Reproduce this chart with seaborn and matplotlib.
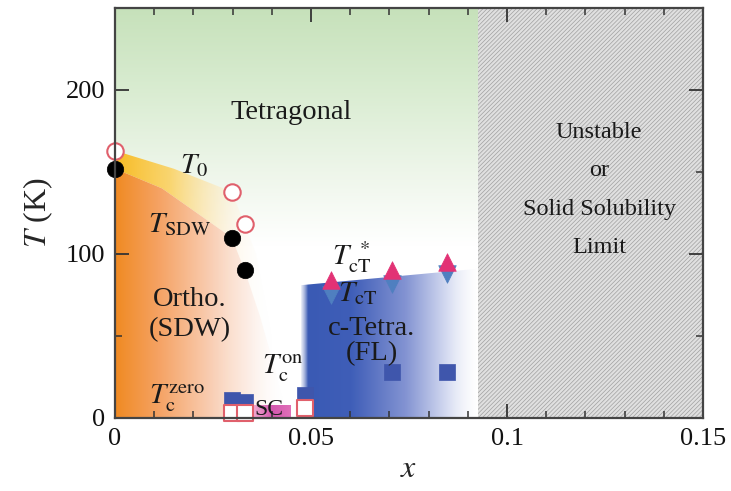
import numpy as np
import pandas as pd
import matplotlib
matplotlib.use("Agg")
import matplotlib.pyplot as plt
from matplotlib.patches import Polygon, Rectangle
from matplotlib.colors import to_rgba
import seaborn as sns

# ---------------- data ----------------
t0_x = [0.0, 0.0298, 0.0331]
t0_y = [163, 138, 118]
tsdw_x = [0.0, 0.0298, 0.0331]
tsdw_y = [152, 110, 90]
tct_star_x = [0.0552, 0.0707, 0.0847]
tct_star_y = [84, 90, 95]
tct_x = [0.0552, 0.0707, 0.0847]
tct_y = [75, 82, 88]
tc_on_x = [0.0298, 0.0331, 0.0484, 0.0707, 0.0847]
tc_on_y = [11, 10, 14, 28, 28]
tc_zero_x = [0.0298, 0.0331, 0.0484]
tc_zero_y = [3, 3, 6]

# phase boundaries (background regions)
sdw_bx = [0.0, 0.012, 0.0298, 0.0331, 0.037, 0.041, 0.044]
sdw_by = [152, 140, 110, 90, 62, 28, 0]
t0_bx = [0.0, 0.015, 0.0298, 0.0331, 0.036]
t0_by = [163, 152, 138, 118, 100]
fl_bx = [0.0475, 0.0925]
fl_by = [81, 91]
limit_x = 0.0925
sc_box = (0.0355, 0.0448, 0, 8)

x_ticks = [0, 0.05, 0.1, 0.15]
x_ticklabels = ["0", "0.05", "0.1", "0.15"]
y_ticks = [0, 100, 200]
y_ticklabels = ["0", "100", "200"]

# ---------------- style ----------------
sns.set_style("ticks")
plt.rcParams["font.family"] = ["Liberation Serif", "DejaVu Serif"]
plt.rcParams["mathtext.fontset"] = "stix"
plt.rcParams["hatch.linewidth"] = 0.5

fig = plt.figure(figsize=(7.31, 4.91), dpi=100)
ax = fig.add_axes([115 / 731, 1 - 418 / 491, 588 / 731, 410 / 491])
XMIN, XMAX, YMIN, YMAX = 0.0, 0.15, 0.0, 250.0
ax.set_xlim(XMIN, XMAX)
ax.set_ylim(YMIN, YMAX)


def grad_image(stops, n=400, horizontal=True):
    pos = np.linspace(0, 1, n)
    cols = np.array([to_rgba(c, a) for _, c, a in stops])
    p = np.array([s[0] for s in stops])
    arr = np.stack([np.interp(pos, p, cols[:, k]) for k in range(4)], axis=-1)
    if horizontal:
        return arr[np.newaxis, :, :]
    return arr[::-1, np.newaxis, :]  # top row = pos 1


def draw_grad(extent, stops, clip=None, horizontal=True, z=0.5):
    img = grad_image(stops, horizontal=horizontal)
    im = ax.imshow(img, extent=extent, aspect="auto", origin="upper",
                   interpolation="bilinear", zorder=z)
    if clip is not None:
        ax.add_patch(clip)
        clip.set_visible(False)
        im.set_clip_path(clip)
    return im


# green tetragonal region (vertical gradient)
green_clip = Rectangle((0, 0), limit_x, 250, transform=ax.transData)
draw_grad([0, limit_x, 0, 250],
          [(0.0, "#ffffff", 1), (0.42, "#ffffff", 1), (0.6, "#eef6ea", 1),
           (0.8, "#d9ecd1", 1), (1.0, "#c6e1ba", 1)],
          clip=green_clip, horizontal=False, z=0.2)

# yellow T0 band
band = list(zip(t0_bx, t0_by)) + list(zip(sdw_bx[::-1], sdw_by[::-1]))
band_poly = Polygon(band, closed=True, transform=ax.transData)
draw_grad([0, 0.04, 0, 250],
          [(0.0, "#f8bb22", 1), (0.35, "#fbd262", 0.9), (0.75, "#fdf0d8", 0.5),
           (1.0, "#ffffff", 0.0)],
          clip=band_poly, z=0.3)

# orange SDW region
sdw_poly = Polygon(list(zip(sdw_bx, sdw_by)) + [(sdw_bx[-1], 0), (0, 0)],
                   closed=True, transform=ax.transData)
draw_grad([0, 0.044, 0, 250],
          [(0.0, "#f08a22", 1), (0.25, "#f5a263", 1), (0.55, "#f9cdb2", 1),
           (0.8, "#fdeee6", 0.8), (1.0, "#ffffff", 0.0)],
          clip=sdw_poly, z=0.3)

# blue c-Tetra (FL) region
fl_poly = Polygon([(fl_bx[0], 0), (fl_bx[0], fl_by[0]), (fl_bx[1], fl_by[1]),
                   (fl_bx[1], 0)], closed=True, transform=ax.transData)
draw_grad([0.0465, limit_x, 0, 250],
          [(0.0, "#ffffff", 0.0), (0.06, "#3a5ab4", 1), (0.3, "#3f5eb8", 1),
           (0.6, "#8393d2", 1), (0.85, "#dde2f4", 1), (1.0, "#ffffff", 0.4)],
          clip=fl_poly, z=0.3)

# SC region
sc_clip = Rectangle((sc_box[0], sc_box[2]), sc_box[1] - sc_box[0],
                    sc_box[3] - sc_box[2], transform=ax.transData)
draw_grad([sc_box[0], sc_box[1], 0, 250],
          [(0.0, "#f0a8d0", 1), (0.5, "#d457ae", 1), (1.0, "#e070b8", 1)],
          clip=sc_clip, z=0.35)

# hatched unstable region
ax.add_patch(Rectangle((limit_x, 0), XMAX - limit_x + 0.01, 250,
                       facecolor="#e0e0e0", edgecolor="#a0a0a0",
                       hatch="////////", linewidth=0, zorder=0.4))

# ---------------- markers via seaborn ----------------
def sc(xs, ys, marker, face, edge, size, lw=1.2, z=3):
    df = pd.DataFrame({"x": xs, "y": ys})
    sns.scatterplot(data=df, x="x", y="y", ax=ax, marker=marker, s=size,
                    color=face, edgecolor=edge, linewidth=lw, zorder=z,
                    legend=False, clip_on=False)

sc(t0_x, t0_y, "o", "white", "#e0606c", 140, lw=1.5)
sc(tsdw_x, tsdw_y, "o", "black", "black", 140, lw=0.5)
sc(tc_on_x, tc_on_y, "s", "#3f56ac", "#3f56ac", 140, lw=0.5)
sc(tc_zero_x, tc_zero_y, "s", "white", "#e0606c", 130, lw=1.5)
sc(tct_x, tct_y, "v", "#4f7fc0", "#4f7fc0", 160, lw=0.5)
sc(tct_star_x, tct_star_y, "^", "#e23275", "#e23275", 160, lw=0.5)

# ---------------- axes styling ----------------
ax.set_xticks(x_ticks)
ax.set_xticklabels(x_ticklabels)
ax.set_yticks(y_ticks)
ax.set_yticklabels(y_ticklabels)
ax.set_xticks(np.arange(0, 0.1501, 0.01), minor=True)
ax.set_yticks(np.arange(0, 251, 50), minor=True)
ax.tick_params(which="both", direction="in", top=True, right=True,
               colors="#333333", labelcolor="#111111", labelsize=19)
ax.tick_params(which="major", length=10, width=1.3, pad=7)
ax.tick_params(which="minor", length=5, width=1.1)
for s in ax.spines.values():
    s.set_color("#444444")
    s.set_linewidth(1.6)
    s.set_zorder(5)
ax.set_xlabel("$x$", fontsize=23, labelpad=4)
ax.set_ylabel("$T$ (K)", fontsize=23, labelpad=8)

# ---------------- labels ----------------
kw = dict(color="#1a1a1a", zorder=6)
ax.text(0.045, 186, "Tetragonal", fontsize=20.5, ha="center", va="center", **kw)
ax.text(0.0165, 154, "$T_0$", fontsize=21, ha="left", va="center", **kw)
ax.text(0.0085, 118, r"$T_{\rm SDW}$", fontsize=21, ha="left", va="center", **kw)
ax.text(0.019, 63, "Ortho.\n(SDW)", fontsize=20.5, ha="center", va="center",
        linespacing=1.3, **kw)
ax.text(0.0088, 12, r"$T_{\rm c}^{\rm zero}$", fontsize=21, ha="left",
        va="center", **kw)
ax.text(0.0355, 5, "SC", fontsize=17, ha="left", va="center", **kw)
ax.text(0.0375, 30, r"$T_{\rm c}^{\rm on}$", fontsize=21, ha="left",
        va="center", **kw)
ax.text(0.0553, 98, r"$T_{\rm cT}^{\ *}$", fontsize=21, ha="left",
        va="center", **kw)
ax.text(0.057, 76, r"$T_{\rm cT}$", fontsize=21, ha="left", va="center", **kw)
ax.text(0.0655, 47, "c-Tetra.\n(FL)", fontsize=20.5, ha="center", va="center",
        linespacing=1.0, **kw)
ax.text(0.1235, 139, "Unstable\nor\nSolid Solubility\nLimit", fontsize=17.5,
        ha="center", va="center", linespacing=2.1, **kw)

fig.savefig("out.png", dpi=100)
